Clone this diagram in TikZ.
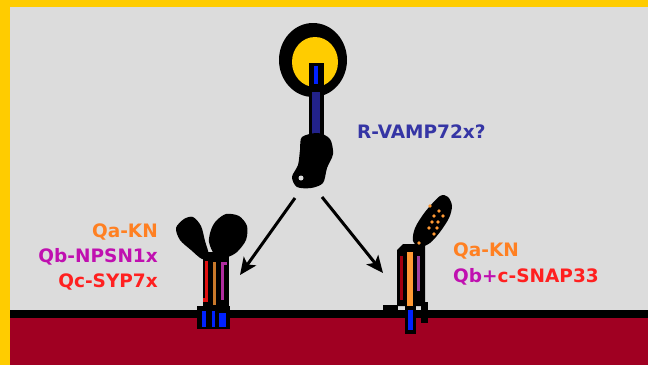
\documentclass[tikz,border=0pt]{standalone}
\usepackage{fontspec}
\setmainfont{DejaVu Sans}
\usetikzlibrary{arrows.meta}

\definecolor{frameyellow}{HTML}{FFCC00}
\definecolor{cellgray}{HTML}{DCDCDC}
\definecolor{pmred}{HTML}{A00022}
\definecolor{vesyellow}{HTML}{FFCC00}
\definecolor{vampblue}{HTML}{22228A}
\definecolor{brightblue}{HTML}{0022FF}
\definecolor{vamptext}{HTML}{3535A5}
\definecolor{qacol}{HTML}{FF8022}
\definecolor{qbcol}{HTML}{C010B0}
\definecolor{qccol}{HTML}{FF2020}
\definecolor{qabar}{HTML}{C8782A}
\definecolor{qbbar}{HTML}{B02CA0}
\definecolor{qcbar}{HTML}{E01010}
\definecolor{snaporange}{HTML}{FF9933}
\definecolor{snapred}{HTML}{A00010}
\definecolor{snappurple}{HTML}{A040A0}

\tikzset{
  lab/.style={font=\bfseries\fontsize{18.5}{20}\selectfont, inner sep=0pt},
  move/.style={->, >={Stealth[length=17pt, width=15pt, inset=4pt]}, line width=3pt, black}
}

\begin{document}
\begin{tikzpicture}[x=1pt,y=-1pt]
        \useasboundingbox (0,0) rectangle (648,365);
        \fill[frameyellow] (0,0) rectangle (648,365);
        \fill[cellgray] (10,7) rectangle (648,365);
        \fill[pmred] (10,314) rectangle (648,365);
        \fill[black] (10,310) rectangle (648,318);

        % vesicle with R-SNARE
        \fill[black] (313,60) ellipse [x radius=34, y radius=37];
        \fill[vesyellow] (315,62) ellipse [x radius=23, y radius=25];
        \fill[black] (309,63) rectangle (324,141);
        \fill[vampblue] (312,92) rectangle (320,138);
        \fill[brightblue] (314,66) rectangle (318,84);
        \fill[black] plot[smooth cycle] coordinates {(302,137) (318,133) (330,139) (333,154)
            (327,168) (323,183) (311,188) (297,187) (292,177) (298,165) (300,150)};
        \fill[cellgray] (301,178) circle (2.5);

        % Qa/Qb/Qc complex
        \fill[black] plot[smooth cycle] coordinates {(184,219) (193,217) (201,226) (205,241)
            (209,256) (202,259) (191,250) (180,240) (176,228)};
        \fill[black] plot[smooth cycle] coordinates {(216,221) (226,214) (239,216) (247,226)
            (246,240) (237,252) (227,257) (215,255) (209,242) (211,230)};
        \fill[black] (203,252) rectangle (229,308);
        \fill[black] (197,306) rectangle (230,329);
        \fill[qcbar] (205,261) rectangle (208,301);
        \fill[qcbar] (203,298) rectangle (208,302);
        \fill[qabar] (213,262) rectangle (216,305);
        \fill[qbbar] (221,262) rectangle (224,300);
        \fill[qbbar] (221,262) rectangle (227,265);
        \fill[brightblue] (202,311) rectangle (206,327);
        \fill[brightblue] (212,311) rectangle (215,327);
        \fill[brightblue] (219,313) rectangle (226,327);

        % Qa + Qbc complex
        \fill[black] plot[smooth cycle] coordinates {(440,196) (448,197) (452,206) (449,218)
            (440,232) (430,243) (420,247) (413,241) (415,228) (425,212)};
        \fill[black] (397,250) -- (403,244) -- (425,244) -- (425,306) -- (397,306) -- cycle;
        \fill[black] (405,300) rectangle (416,334);
        \fill[black] (383,305) rectangle (398,313);
        \fill[black] (421,302) rectangle (428,323);
        \fill[snapred] (400,256) rectangle (403,300);
        \fill[snaporange] (407,252) rectangle (413,306);
        \fill[snappurple] (417,256) rectangle (420,291);
        \fill[brightblue] (408,310) rectangle (413,330);
        \foreach \p in {(430,206),(439,211),(434,216),(443,216),(432,222),
                        (438,222),(429,228),(437,228),(434,234),(419,243)}
            \fill[snaporange] \p circle (1.9);

        \node[lab, vamptext, anchor=base west] (vamp) at (357,138) {R-VAMP72x?};

        \node[lab, qacol, anchor=base east] (qa1) at (158,237) {Qa-KN};
        \node[lab, qbcol, anchor=base east] (qb1) at (158,262) {Qb-NPSN1x};
        \node[lab, qccol, anchor=base east] (qc1) at (158,287) {Qc-SYP7x};

        \node[lab, qacol, anchor=base west] (qa2) at (453,256) {Qa-KN};
        \node[lab, anchor=base west] (qbc2) at (453,282) {\color{qbcol}Qb+\color{qccol}c-SNAP33};

        \coordinate (from1) at (295,198);
        \coordinate (to1) at (240,275);
        \coordinate (from2) at (322,197);
        \coordinate (to2) at (383,273);
        \path [move] (from1) edge (to1);
        \path [move] (from2) edge (to2);
    \end{tikzpicture}
\end{document}
